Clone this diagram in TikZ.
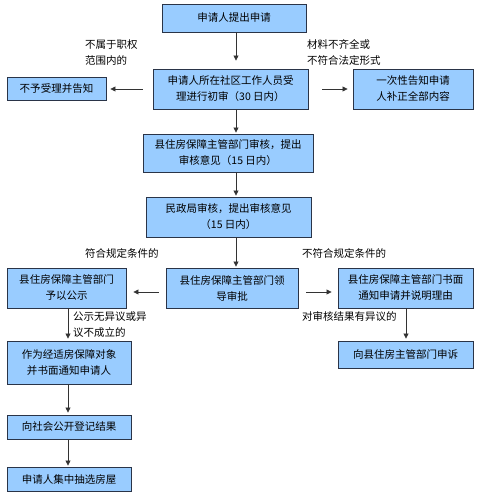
\documentclass[tikz,border=0pt]{standalone}
\usepackage{fontspec}
\setmainfont{Noto Sans CJK SC}
\usetikzlibrary{arrows.meta}
\definecolor{boxfill}{HTML}{99CCFF}
\definecolor{boxline}{HTML}{2A3448}
\definecolor{arrline}{HTML}{333333}
\begin{document}
\begin{tikzpicture}[x=1pt,y=-1pt,
  box/.style={draw=boxline,line width=0.9pt,fill=boxfill,inner sep=0pt,align=center,
    font=\fontsize{10.5}{16}\selectfont},
  lbl/.style={inner sep=0pt,align=left,anchor=west,font=\fontsize{10.5}{16}\selectfont},
  arr/.style={draw=arrline,line width=0.8pt,-{Triangle[length=5pt,width=5pt]}}]
\useasboundingbox (0,0) rectangle (481,500);
\fill[white] (0,0) rectangle (481,500);
\coordinate (ax) at (236,0);
\coordinate (lx) at (68,0);
\coordinate (rx) at (406,0);
\node[box,minimum width=144,minimum height=28] (b1) at (234,18) {申请人提出申请};
\node[box,minimum width=155,minimum height=40] (b2) at (230.5,89) {申请人所在社区工作人员受\\理进行初审（30 日内）};
\node[box,minimum width=99,minimum height=23] (l1) at (56.5,88.5) {不予受理并告知};
\node[box,minimum width=120,minimum height=40] (r1) at (413,89) {一次性告知申请\\人补正全部内容};
\node[box,minimum width=170,minimum height=38] (b3) at (228,153) {县住房保障主管部门审核，提出\\审核意见（15 日内）};
\node[box,minimum width=165,minimum height=40] (b4) at (228.5,217) {民政局审核，提出审核意见\\（15 日内）};
\node[box,minimum width=132,minimum height=40] (b5) at (232,288) {县住房保障主管部门领\\导审批};
\node[box,minimum width=119,minimum height=40] (l2) at (66.5,288) {县住房保障主管部门\\予以公示};
\node[box,minimum width=135,minimum height=40] (r2) at (405.5,288) {县住房保障主管部门书面\\通知申请并说明理由};
\node[box,minimum width=124,minimum height=43] (l3) at (69,362.5) {作为经适房保障对象\\并书面通知申请人};
\node[box,minimum width=135,minimum height=27] (r3) at (405.5,354.5) {向县住房主管部门申诉};
\node[box,minimum width=124,minimum height=24] (l4) at (69,427) {向社会公开登记结果};
\node[box,minimum width=124,minimum height=24] (l5) at (69,479) {申请人集中抽选房屋};
\node[lbl] (t1) at (85,52.5) {不属于职权\\范围内的};
\node[lbl] (t2) at (307,52.5) {材料不齐全或\\不符合法定形式};
\node[lbl] (t3) at (85,253) {符合规定条件的};
\node[lbl] (t4) at (302,253) {不符合规定条件的};
\node[lbl] (t5) at (73,325) {公示无异议或异\\议不成立的};
\node[lbl] (t6) at (302,317) {对审核结果有异议的};
\draw[arr,shorten >=8pt] (b1.south -| ax) -- (b2.north -| ax);
\draw[arr,shorten >=1pt] (b2.south -| ax) -- (b3.north -| ax);
\draw[arr,shorten >=1pt] (b3.south -| ax) -- (b4.north -| ax);
\draw[arr,shorten >=1pt] (b4.south -| ax) -- (b5.north -| ax);
\draw[arr,shorten <=10pt,shorten >=4pt] (b2.west) -- (l1.east |- b2.west);
\draw[arr,shorten <=14pt,shorten >=5pt] (b2.east) -- (r1.west |- b2.east);
\draw[arr,shorten <=7pt,shorten >=7pt] ([yshift=-4pt]b5.west) -- ([yshift=-4pt]l2.east);
\draw[arr,shorten <=8pt,shorten >=6pt] ([yshift=-4pt]b5.east) -- ([yshift=-4pt]r2.west);
\draw[arr,shorten >=2pt] (l2.south -| lx) -- (l3.north -| lx);
\draw[arr,shorten >=2pt] (r2.south -| rx) -- (r3.north -| rx);
\draw[arr,shorten >=2pt] (l3.south -| lx) -- (l4.north -| lx);
\draw[arr,shorten >=1pt] (l4.south -| lx) -- (l5.north -| lx);
\end{tikzpicture}
\end{document}
